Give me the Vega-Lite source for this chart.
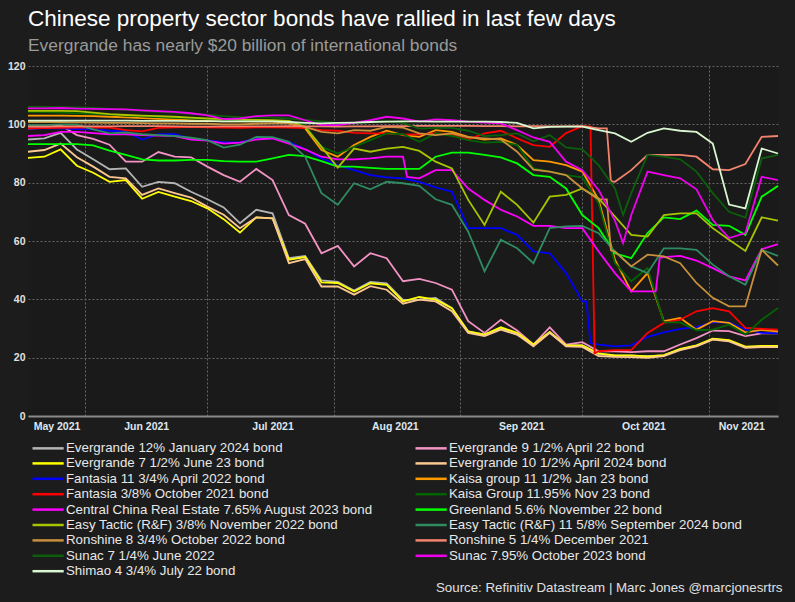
{
  "$schema": "https://vega.github.io/schema/vega-lite/v6.json",
  "width": 750,
  "height": 350,
  "autosize": {"type": "none"},
  "padding": {"left": 28, "top": 66, "right": 17, "bottom": 186},
  "background": "#1c1c1c",
  "config": {"font": "Liberation Sans", "view": {"stroke": null, "fill": "#1a1a1a"}},
  "title": {
    "text": "Chinese property sector bonds have rallied in last few days",
    "subtitle": "Evergrande has nearly $20 billion of international bonds",
    "anchor": "start", "frame": "group",
    "font": "Liberation Sans", "fontSize": 22.5, "fontWeight": "normal", "color": "#ffffff",
    "subtitleFont": "Liberation Sans", "subtitleFontSize": 17.4, "subtitleColor": "#9a9a9a",
    "subtitlePadding": 6, "offset": 7
  },
  "datasets": {
    "names": [
      {"k": "a", "name": "Evergrande 12% January 2024 bond"},
      {"k": "b", "name": "Evergrande 9 1/2% April 22 bond"},
      {"k": "c", "name": "Evergrande 7 1/2% June 23 bond"},
      {"k": "d2", "name": "Evergrande 10 1/2% April 2024 bond"},
      {"k": "e", "name": "Fantasia 11 3/4% April 2022 bond"},
      {"k": "f", "name": "Kaisa group 11 1/2% Jan 23 bond"},
      {"k": "g", "name": "Fantasia 3/8% October 2021 bond"},
      {"k": "h", "name": "Kaisa Group 11.95% Nov 23 bond"},
      {"k": "i", "name": "Central China Real Estate 7.65% August 2023 bond"},
      {"k": "j", "name": "Greenland 5.6% November 22 bond"},
      {"k": "k", "name": "Easy Tactic (R&F) 3/8% November 2022 bond"},
      {"k": "l", "name": "Easy Tactic (R&F) 11 5/8% September 2024 bond"},
      {"k": "m", "name": "Ronshine 8 3/4% October 2022 bond"},
      {"k": "n", "name": "Ronshine 5 1/4% December 2021"},
      {"k": "o", "name": "Sunac 7 1/4% June 2022"},
      {"k": "p", "name": "Sunac 7.95% October 2023 bond"},
      {"k": "q", "name": "Shimao 4 3/4% July 22 bond"}
    ]
  },
  "data": {"values": [
    {"d":"2021-05-18","a":94.8,"b":98.5,"c":88.5,"d2":90.6,"e":98.5,"f":103,"g":98.6,"h":104.3,"i":96,"j":93.2,"k":104.6,"l":99.7,"m":100.8,"n":99.2,"o":106,"p":105.5,"q":101.3},
    {"d":"2021-05-22","a":95.2,"b":98.8,"c":88.9,"d2":91.2,"e":98.6,"f":103,"g":98.7,"h":104.2,"i":96.3,"j":93.2,"k":104.6,"l":99.7,"m":100.8,"n":99.2,"o":106,"p":105.5,"q":101.3},
    {"d":"2021-05-26","a":97.1,"b":99.7,"c":91.4,"d2":93.4,"e":98.6,"f":103,"g":98.8,"h":104,"i":97.4,"j":93.2,"k":104.6,"l":100,"m":100.8,"n":99.3,"o":105.9,"p":105.6,"q":101.3},
    {"d":"2021-05-30","a":91.4,"b":96.3,"c":85.8,"d2":88.7,"e":98.4,"f":102.9,"g":98.9,"h":103.8,"i":97.4,"j":93.2,"k":104.5,"l":99.9,"m":100.7,"n":99.3,"o":105.8,"p":105.4,"q":101.3},
    {"d":"2021-06-03","a":88,"b":95,"c":83.4,"d2":85.5,"e":98.3,"f":102.8,"g":99,"h":103.6,"i":97,"j":92.8,"k":104,"l":98.3,"m":100.6,"n":99.3,"o":105.6,"p":105.3,"q":101.3},
    {"d":"2021-06-07","a":84.6,"b":93,"c":80.3,"d2":82,"e":97.8,"f":102.6,"g":98.9,"h":103.3,"i":96.6,"j":91,"k":103.5,"l":96.9,"m":100.5,"n":99.3,"o":105.3,"p":105.2,"q":101.3},
    {"d":"2021-06-11","a":84.9,"b":87.2,"c":80.9,"d2":81.5,"e":97.5,"f":102.4,"g":98,"h":103,"i":96.6,"j":89.5,"k":103.2,"l":97.2,"m":100.5,"n":99.4,"o":105,"p":105.1,"q":101.3},
    {"d":"2021-06-15","a":78.6,"b":87.2,"c":74.5,"d2":75.8,"e":94.8,"f":102.1,"g":97.6,"h":102.7,"i":96.3,"j":88,"k":103,"l":96.6,"m":100.4,"n":99.4,"o":104.6,"p":104.8,"q":101.2},
    {"d":"2021-06-19","a":80.3,"b":90.5,"c":76.8,"d2":78,"e":96.6,"f":101.9,"g":98.8,"h":102.5,"i":96.1,"j":87.6,"k":102.8,"l":96.3,"m":100.3,"n":99.4,"o":104.3,"p":104.5,"q":101.2},
    {"d":"2021-06-23","a":79.8,"b":88.9,"c":75.2,"d2":76.4,"e":96.6,"f":101.7,"g":99,"h":102.2,"i":96,"j":87.6,"k":102.6,"l":96,"m":100.3,"n":99.3,"o":104,"p":104.3,"q":101.2},
    {"d":"2021-06-27","a":76.9,"b":88.7,"c":73.7,"d2":74.9,"e":95,"f":101.4,"g":99.1,"h":102,"i":94.8,"j":87.8,"k":102.3,"l":95.4,"m":100.2,"n":99.2,"o":103.6,"p":103.8,"q":101.1},
    {"d":"2021-07-01","a":74.3,"b":85.5,"c":71.2,"d2":71.8,"e":94.5,"f":101.2,"g":99,"h":101.8,"i":94.4,"j":87.8,"k":102,"l":94.6,"m":100.2,"n":99.2,"o":103.3,"p":103.1,"q":101.1},
    {"d":"2021-07-05","a":71.5,"b":82.6,"c":67.5,"d2":69,"e":93.8,"f":101,"g":98.9,"h":101.5,"i":93.4,"j":87.4,"k":101.8,"l":92,"m":100,"n":99.3,"o":102.8,"p":101.8,"q":101},
    {"d":"2021-07-09","a":66.1,"b":80.3,"c":62.9,"d2":64.4,"e":93.8,"f":101,"g":98.8,"h":101.3,"i":93.7,"j":87.2,"k":101.6,"l":93,"m":100,"n":99.3,"o":102.5,"p":102,"q":101},
    {"d":"2021-07-13","a":70.7,"b":84.7,"c":68.1,"d2":68.1,"e":95.2,"f":101,"g":99,"h":101.2,"i":94.8,"j":87.2,"k":101.5,"l":95.7,"m":100.2,"n":99.3,"o":102.4,"p":102.8,"q":101},
    {"d":"2021-07-17","a":69.5,"b":80.9,"c":67.8,"d2":67.8,"e":95.2,"f":101,"g":99,"h":101.2,"i":95.2,"j":88.3,"k":101.4,"l":95.6,"m":100.3,"n":99.3,"o":102.3,"p":103.1,"q":101},
    {"d":"2021-07-21","a":54.1,"b":68.9,"c":53.6,"d2":52.4,"e":94,"f":100.3,"g":98.9,"h":101.2,"i":93.4,"j":89.5,"k":101.2,"l":94,"m":100.3,"n":99.4,"o":102,"p":103.1,"q":100.8},
    {"d":"2021-07-25","a":54.9,"b":65.9,"c":54.5,"d2":53.8,"e":91.4,"f":98.6,"g":98.7,"h":99.7,"i":91.4,"j":89.1,"k":99.1,"l":88.9,"m":99.1,"n":99.3,"o":101.5,"p":101.4,"q":100.5},
    {"d":"2021-07-29","a":46.5,"b":55.8,"c":45.8,"d2":44.4,"e":88.3,"f":91.2,"g":98,"h":92.3,"i":88.9,"j":87.4,"k":92.3,"l":76.4,"m":97.4,"n":99.3,"o":101,"p":99.7,"q":100.3},
    {"d":"2021-08-02","a":46,"b":58.3,"c":45.6,"d2":44.4,"e":86,"f":88.9,"g":97.8,"h":90,"i":88,"j":85.5,"k":85.2,"l":72.4,"m":96.9,"n":99.2,"o":100.5,"p":99.7,"q":100.5},
    {"d":"2021-08-06","a":43,"b":51.3,"c":42.7,"d2":41.6,"e":84.3,"f":92.9,"g":97.1,"h":92.3,"i":88,"j":85.5,"k":91.7,"l":79.8,"m":98,"n":99.3,"o":100.5,"p":100.5,"q":100.6},
    {"d":"2021-08-10","a":46,"b":55.8,"c":45.5,"d2":44.5,"e":82.6,"f":95.7,"g":96.9,"h":94.6,"i":88.3,"j":85.1,"k":90.6,"l":77.7,"m":97.8,"n":99.3,"o":100.8,"p":101.4,"q":100.8},
    {"d":"2021-08-14","a":45.5,"b":54.1,"c":45,"d2":43.3,"e":81.8,"f":97.8,"g":96.9,"h":96.9,"i":88.9,"j":84.7,"k":91.7,"l":80.3,"m":99.1,"n":99.4,"o":101,"p":102.6,"q":100.9},
    {"d":"2021-08-18","a":39.8,"b":46.2,"c":39.3,"d2":38.5,"e":81.5,"f":96.3,"g":96.5,"h":96.6,"i":88.9,"j":84.7,"k":92.3,"l":79.8,"m":98.9,"n":99.4,"o":100.5,"p":102,"q":101},
    {"d":"2021-08-22","a":39.9,"b":47,"c":40.8,"d2":39.9,"e":80.3,"f":95.7,"g":96.6,"h":94,"i":81.5,"j":84.7,"k":90.9,"l":78.9,"m":96.9,"n":99.5,"o":98.5,"p":100.9,"q":101},
    {"d":"2021-08-26","a":40.5,"b":45.6,"c":39.9,"d2":39.3,"e":78.4,"f":98,"g":96.9,"h":96.9,"i":84.3,"j":88.9,"k":87.2,"l":74.3,"m":96.3,"n":99.5,"o":98.8,"p":101.7,"q":100.9},
    {"d":"2021-08-30","a":37,"b":43.3,"c":37,"d2":35.9,"e":76.9,"f":97.4,"g":96.5,"h":96,"i":84.3,"j":90.3,"k":84.9,"l":72.4,"m":96.9,"n":99.5,"o":98.8,"p":101.4,"q":100.9},
    {"d":"2021-09-03","a":29,"b":32.5,"c":29,"d2":28.5,"e":64.4,"f":95.7,"g":94.8,"h":94.6,"i":78,"j":90.3,"k":74.1,"l":63.2,"m":95.5,"n":99.5,"o":97.8,"p":100.9,"q":100.9},
    {"d":"2021-09-07","a":27.9,"b":28.5,"c":27.9,"d2":27.4,"e":64.4,"f":94.8,"g":96.9,"h":93.7,"i":74.1,"j":89.5,"k":65.5,"l":49.6,"m":95.2,"n":99.4,"o":96,"p":100.6,"q":100.9},
    {"d":"2021-09-11","a":29.9,"b":33,"c":30.4,"d2":29.6,"e":64.4,"f":95.2,"g":97.8,"h":94,"i":70.7,"j":88.7,"k":76.9,"l":60.4,"m":94.8,"n":99.4,"o":96.3,"p":100.3,"q":100.8},
    {"d":"2021-09-15","a":27.9,"b":29.3,"c":28.5,"d2":27.9,"e":62.1,"f":92.9,"g":95.2,"h":92.9,"i":68.4,"j":86.6,"k":72.4,"l":57.5,"m":90.6,"n":99.3,"o":96.9,"p":98,"q":100.5},
    {"d":"2021-09-19","a":24.5,"b":24.5,"c":24.5,"d2":23.9,"e":56.4,"f":87.7,"g":92.9,"h":84.9,"i":65.2,"j":82.6,"k":66.3,"l":52.4,"m":84.5,"n":99.4,"o":94.2,"p":95.5,"q":98.6},
    {"d":"2021-09-23","a":28.5,"b":30.4,"c":28.8,"d2":28.5,"e":55.8,"f":87.2,"g":92.3,"h":83.8,"i":65.2,"j":82,"k":75.2,"l":64.4,"m":83.8,"n":99.3,"o":96.3,"p":94,"q":99.1},
    {"d":"2021-09-27","a":24.2,"b":24.5,"c":24.2,"d2":23.9,"e":49,"f":86,"g":97,"h":82.6,"i":64.4,"j":78,"k":75.8,"l":65,"m":82.6,"n":99.3,"o":92.1,"p":87.2,"q":99.2},
    {"d":"2021-10-01","a":24.2,"b":25.3,"c":24.2,"d2":23.7,"e":39.3,"f":83.8,"g":99.4,"h":81.8,"i":64.4,"j":68.9,"k":78,"l":65.2,"m":78,"n":99.4,"o":91.4,"p":84.3,"q":99.2},
    {"d":"2021-10-05","a":21.1,"b":22.2,"c":21.5,"d2":20.5,"e":24.5,"f":74.1,"g":22.2,"h":72.9,"i":56.4,"j":64.4,"k":74.6,"l":62.7,"m":74.3,"n":98.6,"o":86,"p":77.5,"q":98},
    {"d":"2021-10-09","a":20.7,"b":22.2,"c":20.8,"d2":20.3,"e":23.9,"f":53.6,"g":22.6,"h":52.4,"i":49,"j":55.8,"k":68.4,"l":56.4,"m":56.4,"n":80.3,"o":78,"p":67,"q":96.9},
    {"d":"2021-10-13","a":20.7,"b":21.9,"c":20.8,"d2":20.2,"e":24.2,"f":42.7,"g":22.6,"h":46.2,"i":42.7,"j":54.1,"k":62.1,"l":51.3,"m":51.3,"n":84.3,"o":76.4,"p":68.9,"q":94},
    {"d":"2021-10-17","a":20.5,"b":22.2,"c":20.4,"d2":19.9,"e":27.1,"f":49,"g":28.5,"h":50.7,"i":42.7,"j":62.7,"k":61.5,"l":49,"m":55.3,"n":89.5,"o":89.5,"p":83.8,"q":97.1},
    {"d":"2021-10-21","a":20.8,"b":22.2,"c":20.9,"d2":20.5,"e":28.7,"f":32.5,"g":31.9,"h":32.1,"i":54.5,"j":68.1,"k":68.9,"l":57.5,"m":54.7,"n":89.5,"o":88.9,"p":82.6,"q":98.6},
    {"d":"2021-10-25","a":22.8,"b":24.5,"c":23,"d2":22.6,"e":29.9,"f":33.6,"g":33,"h":32.1,"i":54.9,"j":67.5,"k":69.5,"l":57.5,"m":52.4,"n":89.5,"o":88,"p":81.5,"q":97.8},
    {"d":"2021-10-29","a":24,"b":26.7,"c":24.2,"d2":23.9,"e":30.5,"f":29.6,"g":35.9,"h":29.4,"i":53.3,"j":70.4,"k":69.5,"l":57,"m":45.6,"n":88.9,"o":83.8,"p":77.7,"q":97.4},
    {"d":"2021-11-02","a":26.4,"b":29.3,"c":26.5,"d2":26.2,"e":32.1,"f":32.5,"g":37,"h":29.6,"i":50.7,"j":65.5,"k":64.4,"l":51.9,"m":40.5,"n":84.6,"o":76.4,"p":67.2,"q":93.4},
    {"d":"2021-11-06","a":25.8,"b":29.1,"c":26,"d2":25.6,"e":32.1,"f":31.9,"g":35.9,"h":31.3,"i":47.9,"j":65.2,"k":60.4,"l":47.9,"m":37.6,"n":84.3,"o":70,"p":61,"q":72.5},
    {"d":"2021-11-10","a":23.6,"b":27.4,"c":23.8,"d2":23.4,"e":29.6,"f":28.7,"g":30.2,"h":27.9,"i":46.5,"j":62.1,"k":56.6,"l":45,"m":37.6,"n":86.4,"o":68,"p":62.7,"q":71.2},
    {"d":"2021-11-14","a":23.8,"b":28.3,"c":24,"d2":23.6,"e":28.5,"f":29.5,"g":29.9,"h":33,"i":57.2,"j":75.2,"k":68.1,"l":57,"m":57,"n":95.7,"o":88.3,"p":82,"q":91.7},
    {"d":"2021-11-18","a":23.8,"b":28.3,"c":24,"d2":23.6,"e":28.3,"f":29,"g":29.6,"h":37,"i":58.9,"j":78.9,"k":67,"l":54.9,"m":51.6,"n":96,"o":89.5,"p":80.9,"q":90},
    {"d":"2021-08-19","i":82},
    {"d":"2021-10-02","e":39.3},
    {"d":"2021-10-03","e":25,"g":99.2},
    {"d":"2021-10-04","g":21.5},
    {"d":"2021-10-07","n":98.6,"m":74.3},
    {"d":"2021-10-08","n":80.5,"m":56.8},
    {"d":"2021-10-11","p":59.3,"o":68.9},
    {"d":"2021-10-19","i":42.7},
    {"d":"2021-10-20","i":54.3}
  ]},
  "transform": [
    {"fold": ["a","b","c","d2","e","f","g","h","i","j","k","l","m","n","o","p","q"], "as": ["key","v"]},
    {"filter": "isValid(datum.v)"},
    {"lookup": "key", "from": {"data": {"name": "names"}, "key": "k", "fields": ["name"]}}
  ],
  "mark": {"type": "line", "strokeWidth": 1.8},
  "encoding": {
    "x": {
      "field": "d", "type": "temporal",
      "scale": {"nice": false},
      "axis": {
        "values": [
          {"year": 2021, "month": 6, "date": 1, "utc": true},
          {"year": 2021, "month": 7, "date": 1, "utc": true},
          {"year": 2021, "month": 8, "date": 1, "utc": true},
          {"year": 2021, "month": 9, "date": 1, "utc": true},
          {"year": 2021, "month": 10, "date": 1, "utc": true},
          {"year": 2021, "month": 11, "date": 1, "utc": true},
          {"year": 2021, "month": 5, "date": 25, "utc": true},
          {"year": 2021, "month": 6, "date": 16, "utc": true},
          {"year": 2021, "month": 7, "date": 17, "utc": true},
          {"year": 2021, "month": 8, "date": 16, "utc": true},
          {"year": 2021, "month": 9, "date": 16, "utc": true},
          {"year": 2021, "month": 10, "date": 16, "utc": true},
          {"year": 2021, "month": 11, "date": 9, "utc": true}
        ],
        "grid": true, "gridColor": "#666666", "gridDash": [2, 2],
        "gridOpacity": {"condition": {"test": "utcdate(datum.value) == 1", "value": 1}, "value": 0},
        "ticks": false,
        "labelExpr": "utcdate(datum.value) == 1 ? '' : utcFormat(datum.value, '%b %Y')",
        "labelFont": "Liberation Sans", "labelFontWeight": "bold", "labelFontSize": 10.5, "labelColor": "#dfe6ee",
        "labelPadding": 5, "labelOverlap": false, "labelFlush": false,
        "domainColor": "#8a8a8a", "domainWidth": 2,
        "title": "Source: Refinitiv Datastream | Marc Jones @marcjonesrtrs",
        "titleFont": "Liberation Sans", "titleFontSize": 13.3, "titleFontWeight": "normal", "titleColor": "#e0e0e0",
        "titleAnchor": "end", "titleAlign": "right", "titleX": 754, "titleY": 175, "titleBaseline": "alphabetic"
      }
    },
    "y": {
      "field": "v", "type": "quantitative",
      "scale": {"domain": [0, 120], "nice": false},
      "axis": {
        "values": [0, 20, 40, 60, 80, 100, 120],
        "grid": true, "gridColor": "#666666", "gridDash": [2, 2],
        "domain": false, "ticks": false, "title": null,
        "labelFont": "Liberation Sans", "labelFontWeight": "bold", "labelFontSize": 10.5, "labelColor": "#e0e0e0", "labelPadding": 3
      }
    },
    "color": {
      "field": "name", "type": "nominal",
      "scale": {
        "domain": [
          "Evergrande 12% January 2024 bond",
          "Evergrande 7 1/2% June 23 bond",
          "Fantasia 11 3/4% April 2022 bond",
          "Fantasia 3/8% October 2021 bond",
          "Central China Real Estate 7.65% August 2023 bond",
          "Easy Tactic (R&F) 3/8% November 2022 bond",
          "Ronshine 8 3/4% October 2022 bond",
          "Sunac 7 1/4% June 2022",
          "Shimao 4 3/4% July 22 bond",
          "Evergrande 9 1/2% April 22 bond",
          "Evergrande 10 1/2% April 2024 bond",
          "Kaisa group 11 1/2% Jan 23 bond",
          "Kaisa Group 11.95% Nov 23 bond",
          "Greenland 5.6% November 22 bond",
          "Easy Tactic (R&F) 11 5/8% September 2024 bond",
          "Ronshine 5 1/4% December 2021",
          "Sunac 7.95% October 2023 bond"
        ],
        "range": ["#b4b4b4", "#ffff00", "#0000ff", "#ff0000", "#ff00ff", "#a8c400", "#c8903c", "#0c5e0c", "#d8f7d0", "#f293c4", "#fcc890", "#ff9900", "#006400", "#00ff00", "#2e8b62", "#f2846e", "#ee00ee"]
      },
      "legend": {
        "orient": "none", "legendX": 3, "legendY": 374, "columns": 2, "title": null,
        "symbolType": "M-1,0H3.8", "symbolSize": 169, "symbolStrokeWidth": 2.5,
        "labelFont": "Liberation Sans", "labelFontSize": 13.3, "labelColor": "#e8e8e8",
        "labelLimit": 400, "labelOffset": 19, "rowPadding": 0.4, "columnPadding": 37
      }
    }
  }
}
